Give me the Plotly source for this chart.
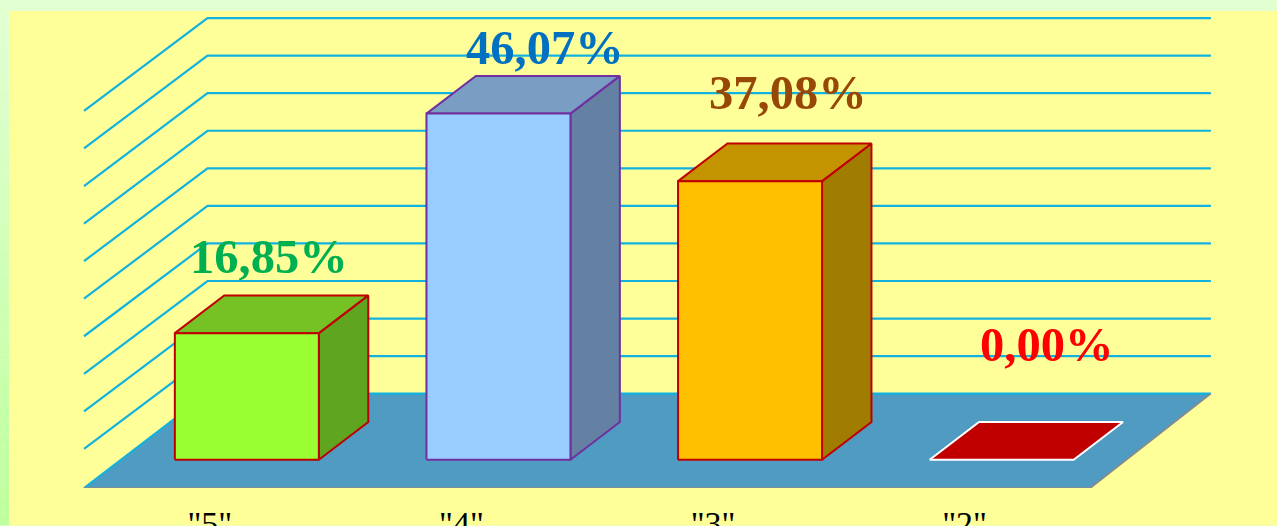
import plotly.graph_objects as go

# ---- data ----
categories = ['"5"', '"4"', '"3"', '"2"']
values = [16.85, 46.07, 37.08, 0.00]
value_labels = ["16,85%", "46,07%", "37,08%", "0,00%"]
grid_values = [0, 5, 10, 15, 20, 25, 30, 35, 40, 45, 50]

# ---- styles ----
front_colors = ["#99FF33", "#99CCFF", "#FFC000", "#C00000"]
top_colors = ["#76C225", "#7A9DC4", "#C49400", "#C00000"]
side_colors = ["#60A520", "#6480A3", "#A07C00", "#C00000"]
edge_colors = ["#C00000", "#7030A0", "#C00000", "#FFFFFF"]
label_colors = ["#00B050", "#0070C0", "#984806", "#FF0000"]
label_xshift = [59, 84, 75, 82]
label_yshift = [105, 94, 117, 144]

W, H = 1277, 526
FLOOR_PX = 488.5      # pixel row of the floor's front edge
LEFT_PX = 84.0        # pixel column of the floor's front-left corner
CAT_PX = 251.6        # pixels per category
PCT_PX = 7.52         # pixels per percent
DX = 123.5 / CAT_PX   # full depth expressed in category units
DY = 94.4 / PCT_PX    # full depth expressed in percent
BACK_RIGHT_X = 3.5 + 120.5 / CAT_PX
BAR_HALF = 72 / CAT_PX
D0, D1 = 0.30, 0.70


def proj(x, v, d):
    """Oblique projection of category x, value v, depth d (0 front .. 1 back)."""
    return x + DX * d, v + DY * d


def poly(points, fill, line, width=2):
    xs = [p[0] for p in points] + [points[0][0]]
    ys = [p[1] for p in points] + [points[0][1]]
    return go.Scatter(x=xs, y=ys, mode="lines", fill="toself", fillcolor=fill,
                      line=dict(color=line, width=width),
                      hoverinfo="skip", showlegend=False)


fig = go.Figure()

# floor
xl, xr = -0.5, 3.5
floor = [(xl, 0), (xr, 0), (BACK_RIGHT_X, DY), proj(xl, 0, 1)]
fig.add_trace(poly(floor, "#4F9BC1", "rgba(0,0,0,0)", 0))

# grid: left wall plus back wall
gx, gy = [], []
for g in grid_values:
    a = proj(xl, g, 0)
    b = proj(xl, g, 1)
    gx += [a[0], b[0], BACK_RIGHT_X, None]
    gy += [a[1] + (0.2 if g else 0), b[1], b[1], None]
fig.add_trace(go.Scatter(x=gx, y=gy, mode="lines",
                         line=dict(color="#12B2E0", width=2.2),
                         hoverinfo="skip", showlegend=False))

# grey front and right floor edges
fig.add_trace(go.Scatter(x=[xl, xr, BACK_RIGHT_X], y=[0, 0, DY], mode="lines",
                         line=dict(color="#8A8A8A", width=1.6),
                         hoverinfo="skip", showlegend=False))

# bars
for i, v in enumerate(values):
    x0 = i + DX * 0.30 - BAR_HALF + 0.0
    x1 = i + DX * 0.30 + BAR_HALF
    f = lambda x, val, d: (x + DX * (d - D0), val + DY * d)
    edge = edge_colors[i]
    if v > 0:
        fig.add_trace(poly([f(x1, 0, D0), f(x1, 0, D1), f(x1, v, D1), f(x1, v, D0)],
                           side_colors[i], edge))
    fig.add_trace(poly([f(x0, v, D0), f(x1, v, D0), f(x1, v, D1), f(x0, v, D1)],
                       top_colors[i], edge))
    if v > 0:
        fig.add_trace(poly([f(x0, 0, D0), f(x1, 0, D0), f(x1, v, D0), f(x0, v, D0)],
                           front_colors[i], edge))

annotations = [
    dict(x=i, y=v, text=value_labels[i], showarrow=False, xanchor="center", yanchor="middle",
         xshift=label_xshift[i], yshift=label_yshift[i],
         font=dict(family="Liberation Serif", size=48.5, color=label_colors[i], weight=700))
    for i, v in enumerate(values)
]


def py(p):
    return (FLOOR_PX - p) / FLOOR_PX


shapes = [dict(type="rect", xref="paper", yref="paper", x0=9 / W, x1=1, y0=py(526), y1=py(11),
               fillcolor="#FFFF99", line_width=0, layer="below")]
# left page strip: vertical gradient
STEPS = 40
c0, c1 = (226, 255, 210), (191, 255, 158)
for s in range(STEPS):
    t = s / (STEPS - 1)
    col = "rgb(%d,%d,%d)" % tuple(round(a + (b - a) * t) for a, b in zip(c0, c1))
    shapes.append(dict(type="rect", xref="paper", yref="paper", x0=0, x1=9 / W,
                       y0=py(H * (s + 1) / STEPS), y1=py(H * s / STEPS),
                       fillcolor=col, line_width=0, layer="below"))

fig.update_layout(
    width=W, height=H,
    margin=dict(l=0, r=0, t=0, b=H - FLOOR_PX, autoexpand=False),
    paper_bgcolor="#E2FFD2", plot_bgcolor="rgba(0,0,0,0)",
    showlegend=False, shapes=shapes, annotations=annotations,
    xaxis=dict(range=[xl - LEFT_PX / CAT_PX, xl + (W - LEFT_PX) / CAT_PX],
               tickmode="array", tickvals=list(range(len(categories))), ticktext=categories,
               showgrid=False, zeroline=False, showline=False, ticks="outside",
               ticklen=5, tickcolor="rgba(0,0,0,0)", automargin=False,
               tickfont=dict(family="Liberation Serif", size=34, color="#000000")),
    yaxis=dict(range=[0, FLOOR_PX / PCT_PX], visible=False, automargin=False),
)
fig.write_html("out.html", config=dict(displayModeBar=False),
               post_script="document.body.style.margin='0';document.body.style.overflow='hidden';")
